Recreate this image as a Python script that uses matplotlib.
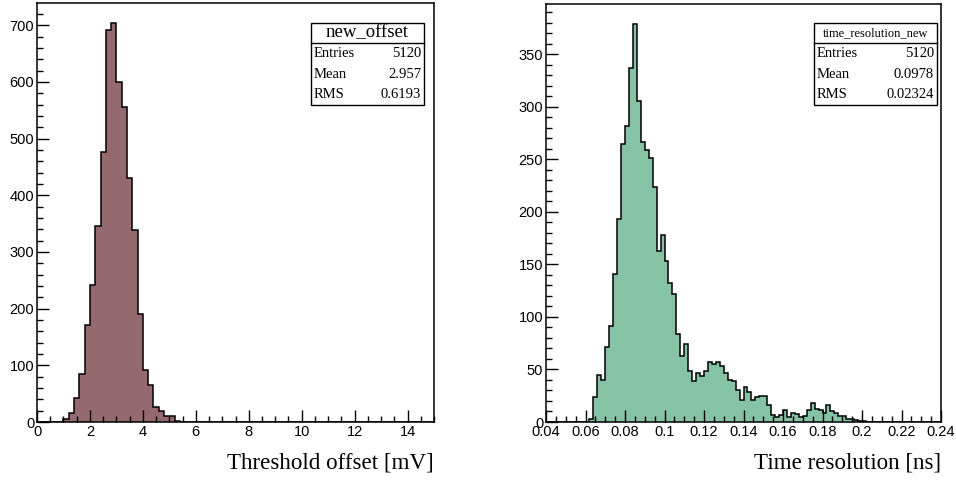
import numpy as np
import matplotlib
matplotlib.use('Agg')
import matplotlib.pyplot as plt
from matplotlib.patches import Rectangle
from matplotlib.ticker import MultipleLocator

# threshold offset histogram, 0.2 mV bins from 0 to 15
offset_range = (0.0, 15.0)
offset_nbins = 75
offset_first = 1.0  # low edge of first filled bin
offset_counts = [6, 16, 42, 84, 171, 242, 345, 476, 691, 704, 600, 556,
                 431, 338, 190, 91, 65, 27, 19, 10, 10, 2]
offset_stats = [("Entries", "5120"), ("Mean", "2.957"), ("RMS", "0.6193")]

# time resolution histogram, 0.002 ns bins from 0.04 to 0.24
time_range = (0.04, 0.24)
time_nbins = 100
time_first = 0.062
time_counts = [3, 24, 45, 40, 71, 91, 141, 193, 265, 282, 337, 379, 306, 267,
               259, 251, 224, 163, 178, 153, 132, 122, 84, 63, 74, 49, 39, 47,
               44, 49, 57, 55, 57, 53, 47, 40, 39, 30, 21, 33, 29, 21, 24, 25,
               25, 16, 7, 5, 7, 11, 5, 9, 8, 5, 6, 11, 18, 12, 11, 9, 16, 10,
               9, 6, 6, 3, 3, 2, 1, 1]
time_stats = [("Entries", "5120"), ("Mean", "0.0978"), ("RMS", "0.02324")]

SANS = 'Liberation Sans'
SERIF = 'Liberation Serif'
W, H = 956, 480


def full_hist(rng, nbins, first, counts):
    edges = np.linspace(rng[0], rng[1], nbins + 1)
    vals = np.zeros(nbins)
    i0 = int(round((first - rng[0]) / (edges[1] - edges[0])))
    vals[i0:i0 + len(counts)] = counts
    return edges, vals


def stat_box(fig, x0, x1, title, rows, title_size, row_size):
    top, head, bot = 23, 43, 105
    fx0, fx1 = x0 / W, x1 / W
    fig.patches.append(Rectangle((fx0, 1 - bot / H), fx1 - fx0, (bot - top) / H,
                                 transform=fig.transFigure, facecolor='white',
                                 edgecolor='black', lw=1.0, zorder=5))
    fig.add_artist(plt.Line2D([fx0, fx1], [1 - head / H] * 2, color='black',
                              lw=1.0, transform=fig.transFigure, zorder=6))
    fig.text((fx0 + fx1) / 2, 1 - (top + head) / 2 / H, title, ha='center',
             va='center', fontsize=title_size, family=SERIF, zorder=7)
    rh = (bot - head) / len(rows)
    for k, (name, val) in enumerate(rows):
        yc = 1 - (head + rh * (k + 0.5)) / H
        fig.text(fx0 + 3 / W, yc, name, ha='left', va='center', fontsize=row_size,
                 family=SERIF, zorder=7)
        fig.text(fx1 - 3 / W, yc, val, ha='right', va='center', fontsize=row_size,
                 family=SERIF, zorder=7)


def style_axes(ax, xmaj, xmin, ymaj, ymin):
    ax.xaxis.set_major_locator(MultipleLocator(xmaj))
    ax.xaxis.set_minor_locator(MultipleLocator(xmin))
    ax.yaxis.set_major_locator(MultipleLocator(ymaj))
    ax.yaxis.set_minor_locator(MultipleLocator(ymin))
    ax.tick_params(which='both', direction='in', top=False, right=False,
                   width=1.0, labelsize=10.5, pad=2)
    ax.tick_params(which='major', length=8.5)
    ax.tick_params(which='minor', length=4.3)
    for lab in ax.get_xticklabels() + ax.get_yticklabels():
        lab.set_family(SANS)
    for s in ax.spines.values():
        s.set_linewidth(1.1)


fig = plt.figure(figsize=(W / 100, H / 100), dpi=100)
axL = fig.add_axes([37 / W, 58 / H, 397 / W, 419 / H])
axR = fig.add_axes([546 / W, 58 / H, 395 / W, 418 / H])

e, v = full_hist(offset_range, offset_nbins, offset_first, offset_counts)
axL.stairs(v, e, fill=True, facecolor='#946a6f', edgecolor='none')
axL.stairs(v, e, color='black', lw=1.1)
axL.set_xlim(*offset_range)
axL.set_ylim(0, 1.05 * v.max())
style_axes(axL, 2, 0.5, 100, 20)
axL.set_xticks(np.arange(0, 15, 2))
axL.set_xlabel('Threshold offset [mV]', family=SERIF, fontsize=16.6,
               loc='right', labelpad=10)

e, v = full_hist(time_range, time_nbins, time_first, time_counts)
axR.stairs(v, e, fill=True, facecolor='#86c2a4', edgecolor='none')
axR.stairs(v, e, color='black', lw=1.1)
axR.set_xlim(*time_range)
axR.set_ylim(0, 1.05 * v.max())
style_axes(axR, 0.02, 0.005, 50, 10)
xt = np.round(np.arange(0.04, 0.2401, 0.02), 2)
axR.set_xticks(xt)
axR.set_xticklabels(['%g' % t for t in xt], family=SANS)
axR.set_xlabel('Time resolution [ns]', family=SERIF, fontsize=16.6,
               loc='right', labelpad=10)

stat_box(fig, 311, 424, 'new_offset', offset_stats, 13.5, 10.5)
stat_box(fig, 814, 937, 'time_resolution_new', time_stats, 9, 10.5)

fig.savefig('out.png', dpi=100)
